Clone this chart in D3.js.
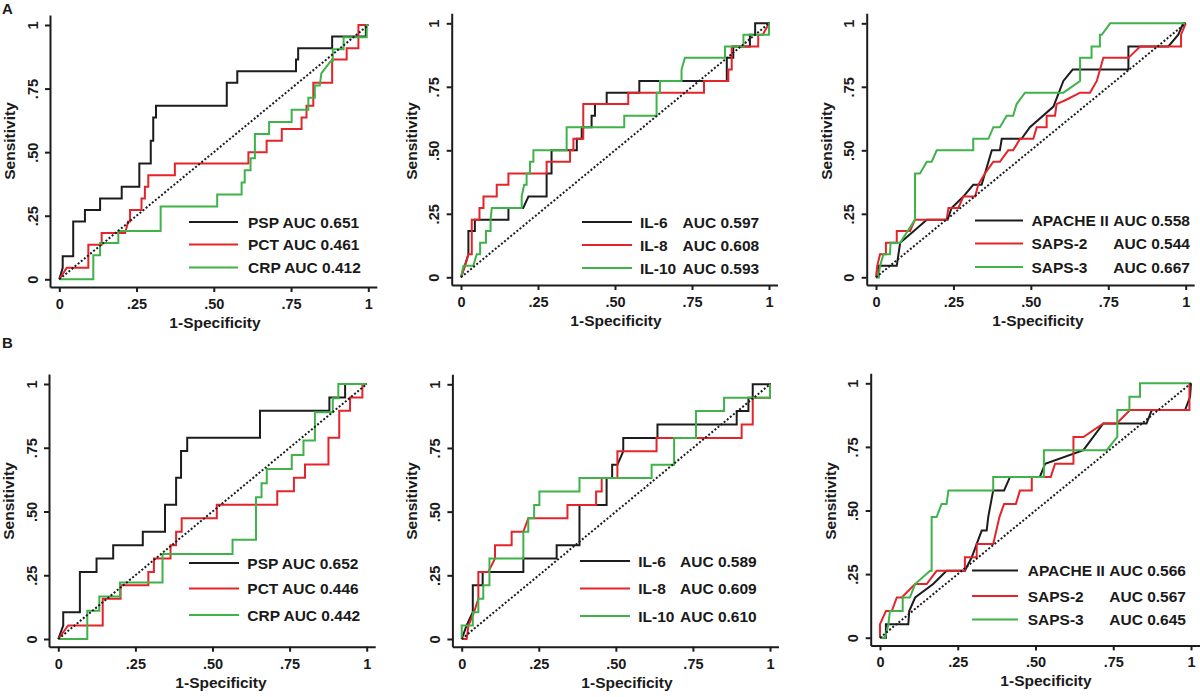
<!DOCTYPE html>
<html><head><meta charset="utf-8">
<script src="https://cdn.jsdelivr.net/npm/d3@7"></script>
<style>
body{margin:0;background:#fff}
svg{display:block}
text{font-family:"Liberation Sans",Arial,Helvetica,sans-serif;font-weight:bold;fill:#1a1a1a}
</style>
</head><body>
<svg id="c" width="1200" height="697"></svg>
<script>
// ---------- tick values / labels ----------
const tickValues = [0, 0.25, 0.5, 0.75, 1];
const tickLabels = ["0", ".25", ".50", ".75", "1"];
const xTitle = "1-Specificity";
const yTitle = "Sensitivity";
const panelLetters = ["A", "B"];

// ---------- series: [1-specificity, sensitivity] ----------
const psp_A = [[0,0],[0.011,0.045],[0.011,0.091],[0.045,0.091],[0.045,0.227],[0.083,0.227],[0.083,0.273],[0.132,0.273],[0.132,0.318],[0.202,0.318],[0.202,0.364],[0.259,0.364],[0.259,0.455],[0.296,0.455],[0.296,0.545],[0.304,0.545],[0.304,0.636],[0.313,0.636],[0.313,0.682],[0.542,0.682],[0.542,0.773],[0.576,0.773],[0.576,0.818],[0.766,0.818],[0.766,0.864],[0.773,0.864],[0.773,0.909],[0.883,0.909],[0.883,0.955],[0.992,0.955],[0.992,1],[1,1]];
const pct_A = [[0,0],[0.024,0.045],[0.094,0.045],[0.094,0.136],[0.137,0.136],[0.137,0.182],[0.213,0.182],[0.223,0.227],[0.229,0.227],[0.229,0.273],[0.266,0.273],[0.266,0.318],[0.277,0.318],[0.277,0.364],[0.288,0.364],[0.288,0.409],[0.374,0.409],[0.374,0.455],[0.612,0.455],[0.612,0.5],[0.671,0.5],[0.671,0.545],[0.72,0.545],[0.72,0.591],[0.784,0.591],[0.784,0.636],[0.8,0.636],[0.8,0.682],[0.822,0.682],[0.822,0.773],[0.883,0.773],[0.883,0.864],[0.93,0.864],[0.93,0.909],[0.968,0.909],[0.968,1],[1,1]];
const crp_A = [[0,0],[0.11,0],[0.11,0.095],[0.132,0.095],[0.132,0.143],[0.191,0.143],[0.191,0.19],[0.328,0.19],[0.328,0.286],[0.511,0.286],[0.511,0.333],[0.59,0.333],[0.59,0.381],[0.6,0.381],[0.6,0.429],[0.619,0.429],[0.619,0.476],[0.633,0.476],[0.633,0.571],[0.679,0.571],[0.679,0.619],[0.752,0.619],[0.752,0.667],[0.806,0.667],[0.806,0.714],[0.827,0.714],[0.827,0.762],[0.843,0.762],[0.848,0.81],[0.878,0.857],[0.885,0.857],[0.885,0.905],[0.92,0.905],[0.92,0.952],[0.995,0.952],[0.995,1],[1,1]];

const il6_A = [[0,0],[0.024,0.09],[0.024,0.182],[0.045,0.182],[0.045,0.227],[0.154,0.227],[0.154,0.273],[0.202,0.273],[0.219,0.318],[0.278,0.318],[0.278,0.409],[0.294,0.409],[0.294,0.5],[0.376,0.5],[0.376,0.545],[0.392,0.545],[0.392,0.591],[0.424,0.591],[0.424,0.636],[0.435,0.636],[0.435,0.682],[0.473,0.682],[0.473,0.727],[0.579,0.727],[0.579,0.773],[0.863,0.773],[0.863,0.864],[0.884,0.864],[0.884,0.909],[0.938,0.909],[0.938,0.955],[0.955,0.955],[0.955,1],[1,1],[1,0.955]];
const il8_A = [[0,0],[0.013,0.045],[0.024,0.091],[0.035,0.091],[0.035,0.227],[0.06,0.227],[0.06,0.273],[0.073,0.273],[0.073,0.318],[0.116,0.318],[0.116,0.364],[0.154,0.364],[0.154,0.409],[0.278,0.409],[0.278,0.455],[0.354,0.455],[0.354,0.5],[0.365,0.5],[0.365,0.545],[0.397,0.545],[0.397,0.682],[0.543,0.682],[0.543,0.727],[0.789,0.727],[0.789,0.773],[0.868,0.773],[0.868,0.818],[0.879,0.818],[0.879,0.909],[0.965,0.909],[0.965,0.955],[0.98,0.955],[1,1]];
const il10_A = [[0,0],[0.008,0.045],[0.04,0.045],[0.051,0.091],[0.062,0.091],[0.062,0.136],[0.081,0.136],[0.081,0.182],[0.096,0.182],[0.096,0.227],[0.1,0.273],[0.197,0.273],[0.197,0.318],[0.205,0.364],[0.213,0.364],[0.213,0.409],[0.224,0.409],[0.224,0.455],[0.235,0.455],[0.235,0.5],[0.343,0.5],[0.343,0.591],[0.53,0.591],[0.53,0.636],[0.635,0.636],[0.635,0.727],[0.646,0.727],[0.646,0.773],[0.716,0.773],[0.716,0.818],[0.727,0.864],[0.857,0.864],[0.857,0.909],[0.917,0.909],[0.917,0.955],[1,0.955],[1,1]];

const apache_A = [[0,0],[0.008,0],[0.008,0.045],[0.067,0.045],[0.078,0.136],[0.126,0.186],[0.164,0.227],[0.231,0.227],[0.244,0.273],[0.282,0.318],[0.314,0.364],[0.341,0.364],[0.374,0.5],[0.4,0.5],[0.406,0.545],[0.47,0.545],[0.497,0.591],[0.573,0.672],[0.605,0.773],[0.635,0.818],[0.815,0.818],[0.815,0.909],[0.944,0.909],[0.976,0.955],[0.992,1],[1,1]];
const saps2_A = [[0,0],[0.004,0.045],[0.013,0.091],[0.032,0.091],[0.032,0.136],[0.067,0.136],[0.067,0.182],[0.11,0.182],[0.126,0.227],[0.228,0.227],[0.234,0.273],[0.266,0.273],[0.282,0.318],[0.32,0.318],[0.33,0.364],[0.352,0.409],[0.379,0.455],[0.4,0.455],[0.427,0.5],[0.443,0.5],[0.465,0.545],[0.508,0.545],[0.519,0.591],[0.551,0.591],[0.551,0.636],[0.578,0.636],[0.583,0.682],[0.616,0.7],[0.659,0.727],[0.691,0.727],[0.713,0.773],[0.734,0.864],[0.815,0.864],[0.853,0.909],[0.985,0.909],[0.985,0.955],[1,1]];
const saps3_A = [[0,0],[0.008,0],[0.013,0.045],[0.024,0.091],[0.045,0.091],[0.047,0.136],[0.078,0.136],[0.126,0.227],[0.126,0.409],[0.142,0.409],[0.164,0.455],[0.18,0.455],[0.196,0.5],[0.314,0.5],[0.314,0.545],[0.363,0.545],[0.379,0.591],[0.4,0.591],[0.422,0.636],[0.443,0.636],[0.454,0.682],[0.481,0.727],[0.605,0.727],[0.659,0.773],[0.659,0.864],[0.696,0.864],[0.696,0.909],[0.723,0.909],[0.723,0.955],[0.729,0.955],[0.756,1],[1,1]];

const psp_B = [[0,0],[0.016,0.053],[0.016,0.105],[0.07,0.105],[0.07,0.263],[0.124,0.263],[0.124,0.316],[0.178,0.316],[0.178,0.368],[0.274,0.368],[0.274,0.421],[0.346,0.421],[0.346,0.526],[0.382,0.526],[0.382,0.632],[0.398,0.632],[0.398,0.737],[0.418,0.737],[0.418,0.789],[0.654,0.789],[0.654,0.895],[0.879,0.895],[0.879,0.947],[0.93,0.947],[0.93,1],[1,1]];
const pct_B = [[0,0],[0.032,0.053],[0.144,0.053],[0.144,0.158],[0.202,0.158],[0.202,0.211],[0.292,0.211],[0.292,0.263],[0.31,0.263],[0.31,0.316],[0.364,0.316],[0.364,0.368],[0.382,0.368],[0.382,0.421],[0.4,0.421],[0.4,0.474],[0.514,0.474],[0.514,0.526],[0.71,0.526],[0.71,0.579],[0.764,0.579],[0.764,0.632],[0.8,0.632],[0.8,0.684],[0.876,0.684],[0.876,0.789],[0.911,0.789],[0.911,0.895],[0.946,0.895],[0.946,0.947],[0.986,0.947],[0.986,1],[1,1]];
const crp_B = [[0,0],[0.094,0],[0.094,0.111],[0.133,0.111],[0.133,0.167],[0.2,0.167],[0.2,0.222],[0.338,0.222],[0.338,0.333],[0.565,0.333],[0.565,0.389],[0.641,0.389],[0.641,0.556],[0.659,0.556],[0.659,0.611],[0.676,0.611],[0.676,0.667],[0.757,0.667],[0.757,0.722],[0.795,0.722],[0.795,0.778],[0.832,0.778],[0.832,0.889],[0.89,0.889],[0.89,0.944],[0.908,0.944],[0.908,1],[1,1]];

const il6_B = [[0,0],[0.016,0.053],[0.036,0.105],[0.036,0.211],[0.068,0.211],[0.068,0.263],[0.2,0.263],[0.2,0.316],[0.308,0.316],[0.308,0.368],[0.382,0.368],[0.382,0.526],[0.47,0.526],[0.47,0.632],[0.488,0.632],[0.488,0.684],[0.505,0.684],[0.524,0.737],[0.524,0.789],[0.635,0.789],[0.635,0.842],[0.892,0.842],[0.892,0.895],[0.93,0.895],[0.93,0.947],[0.944,0.947],[0.944,1],[1,1],[1,0.947]];
const il8_B = [[0,0],[0.016,0],[0.022,0.053],[0.04,0.105],[0.054,0.158],[0.054,0.263],[0.086,0.263],[0.108,0.316],[0.108,0.368],[0.162,0.368],[0.162,0.421],[0.2,0.421],[0.216,0.474],[0.343,0.474],[0.343,0.526],[0.436,0.526],[0.436,0.579],[0.454,0.579],[0.454,0.632],[0.505,0.632],[0.505,0.737],[0.632,0.737],[0.632,0.789],[0.908,0.789],[0.908,0.842],[0.944,0.842],[0.944,0.947],[1,0.947],[1,1]];
const il10_B = [[0,0],[0,0.053],[0.036,0.053],[0.036,0.105],[0.054,0.105],[0.054,0.158],[0.07,0.158],[0.07,0.211],[0.09,0.211],[0.09,0.316],[0.2,0.316],[0.2,0.421],[0.216,0.421],[0.216,0.474],[0.235,0.474],[0.235,0.526],[0.252,0.526],[0.252,0.579],[0.382,0.579],[0.382,0.632],[0.616,0.632],[0.616,0.684],[0.689,0.684],[0.689,0.789],[0.76,0.789],[0.76,0.895],[0.851,0.895],[0.851,0.947],[1,0.947],[1,1]];

const apache_B = [[0,0],[0.019,0],[0.019,0.053],[0.091,0.053],[0.094,0.105],[0.113,0.158],[0.171,0.211],[0.214,0.263],[0.273,0.263],[0.295,0.316],[0.327,0.421],[0.343,0.421],[0.348,0.474],[0.364,0.579],[0.399,0.579],[0.418,0.632],[0.514,0.632],[0.531,0.684],[0.654,0.737],[0.718,0.842],[0.857,0.842],[0.874,0.895],[0.981,0.895],[0.997,0.947],[1,1]];
const saps2_B = [[0,0],[0,0.053],[0.019,0.105],[0.038,0.105],[0.054,0.158],[0.07,0.158],[0.113,0.211],[0.15,0.211],[0.182,0.263],[0.273,0.263],[0.273,0.316],[0.311,0.316],[0.311,0.368],[0.364,0.368],[0.384,0.474],[0.399,0.526],[0.437,0.526],[0.45,0.579],[0.488,0.579],[0.488,0.632],[0.549,0.632],[0.563,0.684],[0.622,0.684],[0.622,0.789],[0.654,0.789],[0.718,0.842],[0.761,0.842],[0.804,0.895],[0.995,0.895],[0.995,1]];
const saps3_B = [[0,0],[0.016,0],[0.027,0.053],[0.032,0.105],[0.073,0.105],[0.073,0.158],[0.096,0.158],[0.113,0.211],[0.161,0.263],[0.166,0.263],[0.166,0.474],[0.182,0.474],[0.198,0.526],[0.214,0.526],[0.22,0.579],[0.364,0.579],[0.364,0.632],[0.527,0.632],[0.527,0.737],[0.729,0.737],[0.763,0.789],[0.763,0.895],[0.802,0.895],[0.802,0.947],[0.836,0.947],[0.836,1],[1,1]];

// ---------- legend texts ----------
const names1 = ["PSP", "PCT", "CRP"];
const names2 = ["IL-6", "IL-8", "IL-10"];
const names3 = ["APACHE II", "SAPS-2", "SAPS-3"];
const auc_A1 = ["0.651", "0.461", "0.412"];
const auc_A2 = ["0.597", "0.608", "0.593"];
const auc_A3 = ["0.558", "0.544", "0.667"];
const auc_B1 = ["0.652", "0.446", "0.442"];
const auc_B2 = ["0.589", "0.609", "0.610"];
const auc_B3 = ["0.566", "0.567", "0.645"];

const colors = ["#1c1c1c", "#e3242b", "#3fb34a"];

// ---------- layout (pixels) ----------
const panels = [
  {series:[psp_A,pct_A,crp_A], names:names1, aucs:auc_A1, x0:59.3, x1:368.3, y0:279.3, y1:25, xt:215, yt:141,
   lg:{lx1:189, lx2:238, tx:248, ax:null, ys:[222,244.5,267.5]}},
  {series:[il6_A,il8_A,il10_A], names:names2, aucs:auc_A2, x0:461, x1:769, y0:277.3, y1:23.3, xt:616, yt:141,
   lg:{lx1:582, lx2:632, tx:640, ax:682.5, ys:[222,245,268]}},
  {series:[apache_A,saps2_A,saps3_A], names:names3, aucs:auc_A3, x0:876, x1:1185.7, y0:277.3, y1:23.3, xt:1038, yt:141,
   lg:{lx1:975, lx2:1023, tx:1031.5, ax:1113.3, ys:[220.5,243.5,267]}},
  {series:[psp_B,pct_B,crp_B], names:names1, aucs:auc_B1, x0:58.3, x1:366.7, y0:639, y1:384, xt:221, yt:501,
   lg:{lx1:189, lx2:239, tx:247.3, ax:null, ys:[563,588.5,615]}},
  {series:[il6_B,il8_B,il10_B], names:names2, aucs:auc_B2, x0:461.7, x1:770, y0:639, y1:384.3, xt:627, yt:501,
   lg:{lx1:580, lx2:630, tx:638.3, ax:680, ys:[561,588.5,616]}},
  {series:[apache_B,saps2_B,saps3_B], names:names3, aucs:auc_B3, x0:880, x1:1191, y0:637.7, y1:383.3, xt:1046, yt:501,
   lg:{lx1:972, lx2:1018, tx:1027.7, ax:1109.3, ys:[570.5,596,619.5]}}
];

const svg = d3.select("#c");
const padL = 9.3, padR = 8.5, padB = 7.7, padT = 10;
const FS = 15.5, TFS = 14.5;

svg.append("text").attr("x", 2).attr("y", 14).style("font-size", "15px").text(panelLetters[0]);
svg.append("text").attr("x", 2).attr("y", 348).style("font-size", "15px").text(panelLetters[1]);

panels.forEach(p => {
  const xb = d3.scaleLinear().domain([0,1]).range([p.x0, p.x1]);
  const yb = d3.scaleLinear().domain([0,1]).range([p.y0, p.y1]);
  const x = xb.copy().domain([xb.invert(p.x0 - padL), xb.invert(p.x1 + padR)]).range([p.x0 - padL, p.x1 + padR]);
  const y = yb.copy().domain([yb.invert(p.y0 + padB), yb.invert(p.y1 - padT)]).range([p.y0 + padB, p.y1 - padT]);
  const axY = p.y0 + padB, axX = p.x0 - padL;

  // x axis
  const gx = svg.append("g").attr("transform", `translate(0,${axY})`)
    .call(d3.axisBottom(x).tickValues(tickValues).tickFormat((d,i)=>tickLabels[i]).tickSize(5).tickSizeOuter(0));
  gx.select(".domain").attr("stroke", "#1c1c1c").attr("stroke-width", 2);
  gx.selectAll(".tick line").attr("stroke", "#1c1c1c").attr("stroke-width", 2);
  gx.selectAll(".tick text").attr("y", 22).attr("dy", null).style("font-size", TFS + "px")
    .attr("fill", "#1c1c1c").style("font-family", "'Liberation Sans',Arial,sans-serif").style("font-weight", "bold");

  // y axis
  const gy = svg.append("g").attr("transform", `translate(${axX},0)`)
    .call(d3.axisLeft(y).tickValues(tickValues).tickFormat((d,i)=>tickLabels[i]).tickSize(5).tickSizeOuter(0));
  gy.select(".domain").attr("stroke", "#1c1c1c").attr("stroke-width", 2);
  gy.selectAll(".tick line").attr("stroke", "#1c1c1c").attr("stroke-width", 2);
  gy.selectAll(".tick text").attr("x", null).attr("dy", null)
    .attr("transform", "translate(-12.5,0) rotate(-90)").attr("text-anchor", "middle")
    .style("font-size", TFS + "px").attr("fill", "#1c1c1c")
    .style("font-family", "'Liberation Sans',Arial,sans-serif").style("font-weight", "bold");

  // titles
  svg.append("text").attr("x", p.xt).attr("y", axY + 41).attr("text-anchor", "middle")
    .style("font-size", FS + "px").text(xTitle);
  svg.append("text").attr("transform", `translate(${axX - 35},${p.yt}) rotate(-90)`).attr("text-anchor", "middle")
    .style("font-size", FS + "px").text(yTitle);

  // curves
  const line = d3.line().x(d => x(d[0])).y(d => y(d[1]));
  p.series.forEach((s, i) => {
    svg.append("path").datum(s).attr("d", line).attr("fill", "none")
      .attr("stroke", colors[i]).attr("stroke-width", 2).attr("stroke-linejoin", "miter");
  });
  // reference diagonal
  svg.append("path").datum([[0,0],[1,1]]).attr("d", line).attr("fill", "none")
    .attr("stroke", "#1c1c1c").attr("stroke-width", 2).attr("stroke-dasharray", "2,2");

  // legend
  p.names.forEach((n, i) => {
    const yy = p.lg.ys[i];
    svg.append("line").attr("x1", p.lg.lx1).attr("x2", p.lg.lx2).attr("y1", yy).attr("y2", yy)
      .attr("stroke", colors[i]).attr("stroke-width", 2);
    if (p.lg.ax === null) {
      svg.append("text").attr("x", p.lg.tx).attr("y", yy + 5.6).style("font-size", FS + "px")
        .text(n + " AUC " + p.aucs[i]);
    } else {
      svg.append("text").attr("x", p.lg.tx).attr("y", yy + 5.6).style("font-size", FS + "px").text(n);
      svg.append("text").attr("x", p.lg.ax).attr("y", yy + 5.6).style("font-size", FS + "px").text("AUC " + p.aucs[i]);
    }
  });
});
</script>
</body></html>
